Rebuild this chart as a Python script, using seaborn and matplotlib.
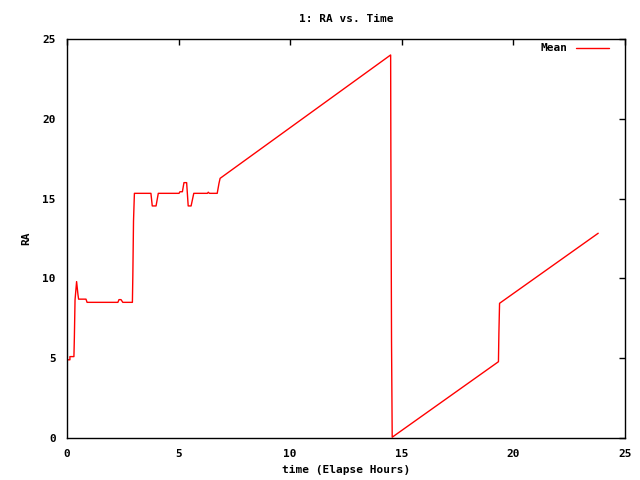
import pandas as pd
import seaborn as sns
import matplotlib.pyplot as plt

# lecturas del grafico (horas, RA)
hours = [0.0, 0.13, 0.13, 0.31, 0.33, 0.36, 0.43, 0.49, 0.52, 0.85, 0.90,
         2.28, 2.33, 2.42, 2.50, 2.93, 2.95, 2.98, 3.02, 3.76, 3.82, 3.99,
         4.09, 5.02, 5.06, 5.17, 5.24, 5.36, 5.43, 5.56, 5.68, 6.29, 6.33,
         6.38, 6.73, 6.81, 6.86, 14.50, 14.51, 14.54, 14.57, 19.33, 19.35,
         19.38, 23.80]
ra = [4.9, 4.9, 5.1, 5.1, 6.3, 8.65, 9.8, 9.0, 8.7, 8.7, 8.5,
      8.5, 8.67, 8.67, 8.5, 8.5, 10.2, 13.6, 15.33, 15.33, 14.54, 14.54,
      15.33, 15.33, 15.43, 15.43, 16.0, 16.0, 14.54, 14.54, 15.33, 15.33, 15.4,
      15.33, 15.33, 15.96, 16.27, 24.0, 18.0, 6.0, 0.05, 4.78, 6.56,
      8.44, 12.83]
xticks = [0, 5, 10, 15, 20, 25]
yticks = [0, 5, 10, 15, 20, 25]

df = pd.DataFrame({"time": hours, "RA": ra, "serie": "Mean"})

sns.set_style("white")
plt.rcParams['font.family'] = ['DejaVu Sans Mono']
plt.rcParams['font.weight'] = 'bold'
plt.rcParams['text.color'] = 'black'
plt.rcParams['xtick.color'] = 'black'
plt.rcParams['ytick.color'] = 'black'
plt.rcParams['axes.labelcolor'] = 'black'

fig = plt.figure(figsize=(6.4, 4.8), dpi=100)
ax = fig.add_axes([67/640, 42/480, 558/640, 399/480])

sns.lineplot(data=df, x="time", y="RA", hue="serie", palette=["red"],
             sort=False, estimator=None, linewidth=1, ax=ax)

ax.set_xlim(0, 25)
ax.set_ylim(0, 25)
ax.set_xticks(xticks)
ax.set_yticks(yticks)
ax.tick_params(direction='in', length=4, width=1, top=True, right=True,
               labelsize=8, pad=8, color='black', labelcolor='black')
for s in ax.spines.values():
    s.set_color('black')
    s.set_linewidth(1)

ax.set_title('1: RA vs. Time', fontsize=8, fontweight='bold', pad=12,
             color='black')
ax.set_xlabel('time (Elapse Hours)', fontsize=8, fontweight='bold', labelpad=4)
ax.set_ylabel('RA', fontsize=8, fontweight='bold', labelpad=8)

leg = ax.legend(loc='upper right', frameon=False, fontsize=8,
                handlelength=3.0, markerfirst=False, borderaxespad=0,
                bbox_to_anchor=(0.98, 1.0))

plt.savefig("out.png", dpi=100)
